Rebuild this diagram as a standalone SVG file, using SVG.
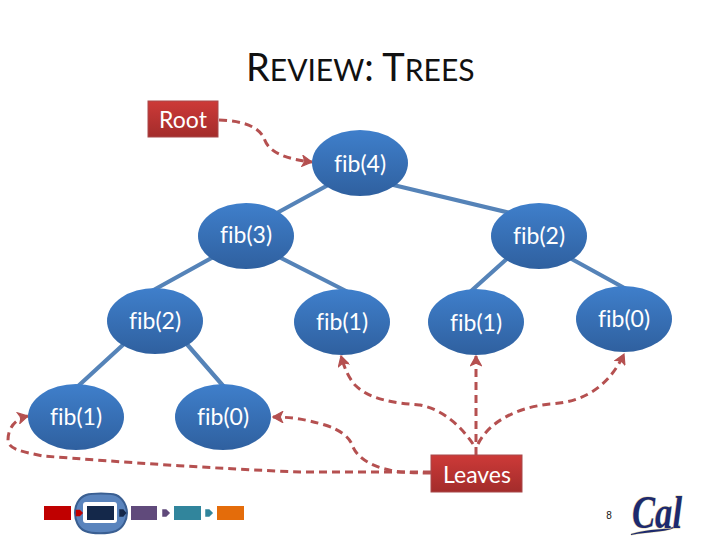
<svg xmlns="http://www.w3.org/2000/svg" width="720" height="540" viewBox="0 0 720 540">
<style>
text{font-family:"Lato","Open Sans","Liberation Sans",sans-serif;font-variant-ligatures:none}
.t{fill:#fff;font-size:23px;text-anchor:middle}
.n{fill:url(#b)}
.r{fill:url(#rd);stroke:#a8494a;stroke-width:1}
.e{stroke:#5583b8;stroke-width:4.2;fill:none}
.d{stroke:#b55050;stroke-width:3;fill:none;stroke-dasharray:8 5;marker-end:url(#a)}
</style>
<defs>
<linearGradient id="b" x1="0" y1="0" x2="0" y2="1"><stop offset="0" stop-color="#3f7fcb"/><stop offset="1" stop-color="#2f609f"/></linearGradient>
<linearGradient id="rd" x1="0" y1="0" x2="0" y2="1"><stop offset="0" stop-color="#cd3a38"/><stop offset="1" stop-color="#a32c2b"/></linearGradient>
<marker id="a" viewBox="0 0 10 10" refX="9" refY="5" markerWidth="4" markerHeight="4" orient="auto"><path d="M1 0.5L9 5L1 9.5L3 5Z" fill="#b55050" stroke="#b55050" stroke-width="1"/></marker>
</defs>
<rect width="720" height="540" fill="#fff"/>
<text x="246" y="81" font-size="38" fill="#111">R<tspan font-size="30">EVIEW</tspan>: T<tspan font-size="30">REES</tspan></text>
<g id="connectors">
<path class="e" d="M330 184L275 214M385 183L510 213M217 255L150 292M275 255L348 292M510 256L470 292M568 257L628 290M125 343L76 388M185 342L225 388"/>
<path class="d" d="M219 120C245 121 258 127 264 138C268 152 285 159 312 162"/>
<path class="d" d="M476 455V356"/>
<path class="d" d="M473 444C462 428 445 410 420 405C395 403 370 400 355 385C349 378 345 370 341 356"/>
<path class="d" d="M478 444C490 420 520 407 550 404C590 402 612 380 624 354"/>
<path class="d" d="M431 473C410 473 395 472 385 469C370 465 358 458 353 447C350 437 340 430 325 425C305 419 290 417 273 417"/>
<path class="d" d="M431 472H300C220 469 120 462 43 456C25 452 8 450 8 440C8 428 15 419 28 416"/>
</g>
<g id="root"><rect class="r" x="148" y="101" width="70" height="36"/><text class="t" x="183" y="128">Root</text></g>
<g id="n4"><ellipse class="n" cx="360" cy="163" rx="48" ry="33"/><text class="t" x="360" y="172">fib(4)</text></g>
<g id="n3"><ellipse class="n" cx="246" cy="236" rx="48" ry="33"/><text class="t" x="246" y="243">fib(3)</text></g>
<g id="n2r"><ellipse class="n" cx="539" cy="236" rx="48" ry="33"/><text class="t" x="539" y="244">fib(2)</text></g>
<g id="n2l"><ellipse class="n" cx="155" cy="321" rx="48" ry="33"/><text class="t" x="155" y="329">fib(2)</text></g>
<g id="n1m"><ellipse class="n" cx="342" cy="322" rx="48" ry="33"/><text class="t" x="342" y="330">fib(1)</text></g>
<g id="n1r"><ellipse class="n" cx="476" cy="322" rx="48" ry="33"/><text class="t" x="476" y="331">fib(1)</text></g>
<g id="n0r"><ellipse class="n" cx="624" cy="319" rx="48" ry="33"/><text class="t" x="624" y="327">fib(0)</text></g>
<g id="n1b"><ellipse class="n" cx="76" cy="417" rx="48" ry="33"/><text class="t" x="76" y="425">fib(1)</text></g>
<g id="n0b"><ellipse class="n" cx="223" cy="417" rx="48" ry="33"/><text class="t" x="223" y="425">fib(0)</text></g>
<g id="leaves"><rect class="r" x="431" y="455" width="91" height="37"/><text class="t" x="477" y="483">Leaves</text></g>
<g id="progress">
<rect x="44" y="506" width="27" height="14" fill="#c00000"/>
<path d="M86 495C92 493 110 493 116 495C123 498 127 506 127 513C127 520 123 528 116 531C108 534 92 534 85 531C78 528 75 520 75 513C75 506 78 498 86 495Z" fill="#5a84bd" stroke="#3a5f92" stroke-width="2"/>
<rect x="83" y="502" width="34" height="21" rx="3" fill="#fff"/>
<rect x="87" y="506" width="27" height="14" fill="#14284a"/>
<path d="M76.500 510.500h3l2.500 2.500l-2.500 2.500h-3z" fill="#c00000" stroke="#c00000" stroke-width="1.500"/>
<path d="M120 510h3l2.500 3l-2.500 3h-3z" fill="#14284a" stroke="#14284a" stroke-width="1.500"/>
<rect x="131" y="506" width="26" height="14" fill="#604a7b"/>
<path d="M163 510h3l3 3l-3 3h-3z" fill="#604a7b" stroke="#604a7b" stroke-width="1.500"/>
<rect x="174" y="506" width="27" height="14" fill="#31859c"/>
<path d="M206 510h3l3 3l-3 3h-3z" fill="#31859c" stroke="#31859c" stroke-width="1.500"/>
<rect x="217" y="506" width="27" height="14" fill="#e46c0a"/>
</g>
<text x="609" y="519" font-size="10" fill="#111" text-anchor="middle" style="font-family:'Liberation Sans',sans-serif">8</text>
<g id="cal">
<path d="M631 534C650 528 665 531 680 525C668 533 650 531 631 535Z" fill="#1d2a6e" stroke="#e6d9a8" stroke-width="1" paint-order="stroke"/>
<text x="632" y="528" font-size="47" font-weight="bold" font-style="italic" fill="#1d2a6e" stroke="#e6d9a8" stroke-width="1" paint-order="stroke" textLength="50" lengthAdjust="spacingAndGlyphs" style="font-family:'Liberation Serif',serif">Cal</text>
</g>
</svg>
